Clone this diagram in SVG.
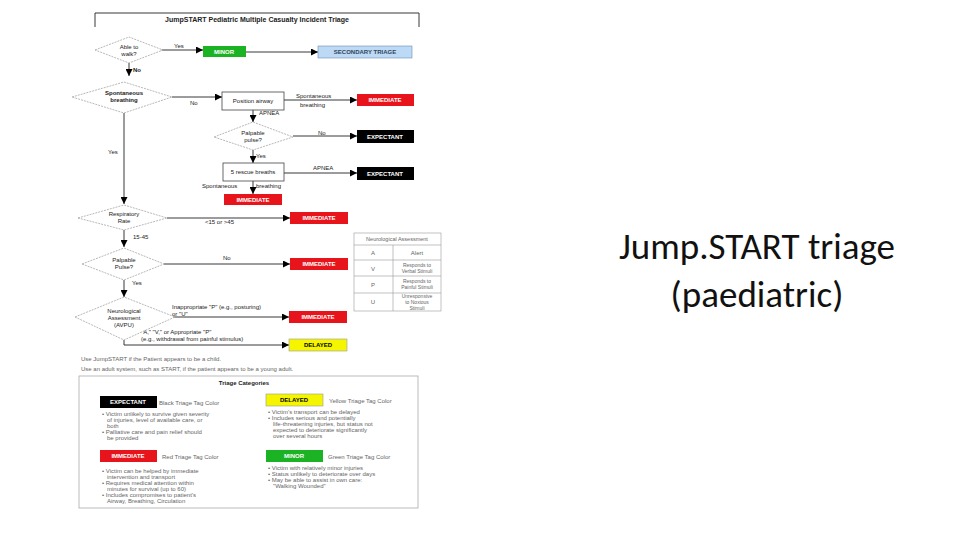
<svg xmlns="http://www.w3.org/2000/svg" width="960" height="540" viewBox="0 0 960 540">
<defs>
<marker id="ar" viewBox="0 0 10 10" refX="10" refY="5" markerWidth="7" markerHeight="7" orient="auto" markerUnits="userSpaceOnUse"><path d="M0,0L10,5L0,10z" fill="#000"/></marker>
<style>
text{font-family:"Liberation Sans",Arial,sans-serif;font-size:6px;fill:#222}
.c{text-anchor:middle}
.b{font-weight:bold}
.w{fill:#fff;font-weight:bold;text-anchor:middle}
.k{fill:#000;font-weight:bold;text-anchor:middle}
.g{fill:#666}
.dia{fill:#fff;stroke:#999;stroke-width:0.7;stroke-dasharray:2,1}
.box{fill:#fff;stroke:#444;stroke-width:0.8}
.red{fill:#e8141b}.blk{fill:#000}.grn{fill:#1bb324}.yel{fill:#f5f500;stroke:#999;stroke-width:0.6}.blu{fill:#bcd9f5;stroke:#6d8fb5;stroke-width:0.6}
.ln{stroke:#222;stroke-width:0.9;fill:none}
.big{font-family:Carlito,"Liberation Sans",sans-serif;font-size:37px;fill:#111;text-anchor:middle}
</style>
</defs>
<rect width="960" height="540" fill="#fff"/>
<path d="M95,27V13H419V27" class="ln" stroke="#666"/>
<text x="257" y="22" class="c b" style="font-size:7px">JumpSTART Pediatric Multiple Casualty Incident Triage</text>
<g id="connectors">
<path d="M153,50H203" class="ln" marker-end="url(#ar)"/>
<path d="M246,52H318" class="ln" marker-end="url(#ar)"/>
<path d="M129,63V76" class="ln" marker-end="url(#ar)"/>
<path d="M172,97H222" class="ln" marker-end="url(#ar)"/>
<path d="M284,100H357" class="ln" marker-end="url(#ar)"/>
<path d="M253,110V122" class="ln" marker-end="url(#ar)"/>
<path d="M293,136H357" class="ln" marker-end="url(#ar)"/>
<path d="M253,150V163" class="ln" marker-end="url(#ar)"/>
<path d="M284,173H357" class="ln" marker-end="url(#ar)"/>
<path d="M253,181V194" class="ln" marker-end="url(#ar)"/>
<path d="M124,113V204" class="ln" marker-end="url(#ar)"/>
<path d="M167,218H290" class="ln" marker-end="url(#ar)"/>
<path d="M124,230V247" class="ln" marker-end="url(#ar)"/>
<path d="M164,264H290" class="ln" marker-end="url(#ar)"/>
<path d="M124,280V297" class="ln" marker-end="url(#ar)"/>
<path d="M172,317H289" class="ln" marker-end="url(#ar)"/>
<path d="M124,340V345H289" class="ln" marker-end="url(#ar)"/>
<text x="174" y="48">Yes</text><text x="133" y="72" class="b">No</text>
<text x="190" y="105">No</text>
<text x="296" y="98">Spontaneous</text><text x="300" y="107">breathing</text>
<text x="259" y="115">APNEA</text><text x="318" y="135">No</text>
<text x="256" y="158">Yes</text><text x="313" y="170">APNEA</text>
<text x="202" y="188">Spontaneous</text><text x="256" y="188">breathing</text>
<text x="108" y="154">Yes</text>
<text x="205" y="224">&lt;15 or &gt;45</text><text x="133" y="239">15-45</text>
<text x="223" y="260">No</text><text x="132" y="285">Yes</text>
<text x="172" y="309">Inappropriate "P" (e.g., posturing)</text><text x="172" y="316">or "U"</text>
<text x="141" y="334">"A," "V," or Appropriate "P"</text><text x="141" y="341">(e.g., withdrawal from painful stimulus)</text>
</g>
<g id="walk"><path d="M95,50L129,37L163,50L129,63z" class="dia"/><text x="129" y="49" class="c">Able to</text><text x="129" y="56" class="c">walk?</text></g>
<g id="minor"><rect x="203" y="46" width="43" height="11" class="grn"/><text x="224" y="54" class="w">MINOR</text></g>
<g id="secondary"><rect x="318" y="46" width="94" height="12" class="blu"/><text x="365" y="54" class="c b" style="fill:#345">SECONDARY TRIAGE</text></g>
<g id="spont"><path d="M72,97L124,82L172,97L124,113z" class="dia"/><text x="124" y="95" class="c b">Spontaneous</text><text x="124" y="102" class="c b">breathing</text></g>
<g id="position"><rect x="222" y="92" width="62" height="18" class="box"/><text x="253" y="103" class="c">Position airway</text></g>
<g id="imm1"><rect x="357" y="94" width="57" height="12" class="red"/><text x="385" y="102" class="w">IMMEDIATE</text></g>
<g id="pulse1"><path d="M214,137L253,122L293,137L253,150z" class="dia"/><text x="253" y="135" class="c">Palpable</text><text x="253" y="142" class="c">pulse?</text></g>
<g id="exp1"><rect x="357" y="130" width="57" height="13" class="blk"/><text x="385" y="139" class="w">EXPECTANT</text></g>
<g id="rescue"><rect x="223" y="163" width="61" height="18" class="box"/><text x="253" y="174" class="c">5 rescue breaths</text></g>
<g id="exp2"><rect x="357" y="167" width="57" height="13" class="blk"/><text x="385" y="176" class="w">EXPECTANT</text></g>
<g id="imm2"><rect x="224" y="194" width="58" height="11" class="red"/><text x="253" y="202" class="w">IMMEDIATE</text></g>
<g id="resp"><path d="M78,218L124,205L167,218L124,230z" class="dia"/><text x="124" y="216" class="c">Respiratory</text><text x="124" y="223" class="c">Rate</text></g>
<g id="imm3"><rect x="290" y="212" width="58" height="12" class="red"/><text x="319" y="220" class="w">IMMEDIATE</text></g>
<g id="pulse2"><path d="M82,264L124,248L164,264L124,280z" class="dia"/><text x="124" y="262" class="c">Palpable</text><text x="124" y="269" class="c">Pulse?</text></g>
<g id="imm4"><rect x="290" y="258" width="58" height="12" class="red"/><text x="319" y="266" class="w">IMMEDIATE</text></g>
<g id="neuro"><path d="M75,317L124,297L175,317L124,340z" class="dia"/><text x="124" y="313" class="c">Neurological</text><text x="124" y="320" class="c">Assessment</text><text x="124" y="327" class="c">(AVPU)</text></g>
<g id="imm5"><rect x="289" y="311" width="58" height="12" class="red"/><text x="318" y="319" class="w">IMMEDIATE</text></g>
<g id="delayed"><rect x="289" y="339" width="58" height="12" class="yel"/><text x="318" y="347" class="k">DELAYED</text></g>
<g id="table" stroke="#999" stroke-width="0.6" fill="none">
<rect x="354" y="233" width="87" height="78"/><path d="M354,245H441M354,260H441M354,276H441M354,293H441M393,245V311"/>
<g stroke="none">
<text x="397" y="241" class="c g" style="font-size:5.5px">Neurological Assessment</text>
<text x="373" y="255" class="c g">A</text><text x="417" y="255" class="c g">Alert</text>
<text x="373" y="271" class="c g">V</text><text x="417" y="267" class="c g" style="font-size:5px">Responds to</text><text x="417" y="273" class="c g" style="font-size:5px">Verbal Stimuli</text>
<text x="373" y="287" class="c g">P</text><text x="417" y="283" class="c g" style="font-size:5px">Responds to</text><text x="417" y="289" class="c g" style="font-size:5px">Painful Stimuli</text>
<text x="373" y="304" class="c g">U</text><text x="417" y="298" class="c g" style="font-size:5px">Unresponsive</text><text x="417" y="304" class="c g" style="font-size:5px">to Noxious</text><text x="417" y="310" class="c g" style="font-size:5px">Stimuli</text>
</g></g>
<text x="81" y="361" class="g">Use JumpSTART if the Patient appears to be a child.</text>
<text x="81" y="371" class="g">Use an adult system, such as START, if the patient appears to be a young adult.</text>
<g id="categories">
<rect x="79" y="376" width="339" height="132" fill="#fff" stroke="#aaa" stroke-width="0.8"/>
<text x="244" y="385" class="c b">Triage Categories</text>
<rect x="100" y="396" width="57" height="12" class="blk"/><text x="128" y="404" class="w">EXPECTANT</text><text x="159" y="405" class="g">Black Triage Tag Color</text>
<text x="102" y="416" class="g">• Victim unlikely to survive given severity</text><text x="107" y="422" class="g">of injuries, level of available care, or</text><text x="107" y="428" class="g">both</text><text x="102" y="434" class="g">• Palliative care and pain relief should</text><text x="107" y="440" class="g">be provided</text>
<rect x="266" y="394" width="57" height="12" class="yel"/><text x="294" y="402" class="k">DELAYED</text><text x="329" y="403" class="g">Yellow Triage Tag Color</text>
<text x="268" y="414" class="g">• Victim's transport can be delayed</text><text x="268" y="420" class="g">• Includes serious and potentially</text><text x="273" y="426" class="g">life-threatening injuries, but status not</text><text x="273" y="432" class="g">expected to deteriorate significantly</text><text x="273" y="438" class="g">over several hours</text>
<rect x="100" y="450" width="57" height="12" class="red"/><text x="128" y="458" class="w">IMMEDIATE</text><text x="162" y="459" class="g">Red Triage Tag Color</text>
<text x="102" y="473" class="g">• Victim can be helped by immediate</text><text x="107" y="479" class="g">intervention and transport</text><text x="102" y="485" class="g">• Requires medical attention within</text><text x="107" y="491" class="g">minutes for survival (up to 60)</text><text x="102" y="497" class="g">• Includes compromises to patient's</text><text x="107" y="503" class="g">Airway, Breathing, Circulation</text>
<rect x="266" y="450" width="57" height="12" class="grn"/><text x="294" y="458" class="w">MINOR</text><text x="328" y="459" class="g">Green Triage Tag Color</text>
<text x="268" y="470" class="g">• Victim with relatively minor injuries</text><text x="268" y="476" class="g">• Status unlikely to deteriorate over days</text><text x="268" y="482" class="g">• May be able to assist in own care:</text><text x="273" y="488" class="g">"Walking Wounded"</text>
</g>
<text x="757" y="259" class="big">Jump.START triage</text>
<text x="757" y="307" class="big">(paediatric)</text>
</svg>
